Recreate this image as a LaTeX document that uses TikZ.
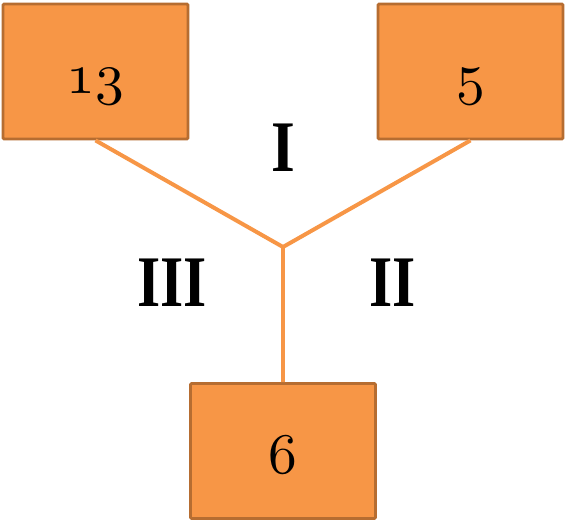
\documentclass[tikz,border=0pt]{standalone}
\usepackage{fontspec}
\newfontfamily\regionfont{Liberation Serif}
\newcommand\olddigits[1]{\scalebox{4.9}{\fontsize{10}{12}\usefont{OML}{cmm}{m}{it}#1}}
\usetikzlibrary{positioning}
\definecolor{boxfill}{HTML}{F79646}
\definecolor{boxline}{HTML}{B66D31}

\begin{document}
\begin{tikzpicture}[x=0.03cm,y=-0.03cm,
    numbox/.style={draw=boxline, fill=boxfill, line width=2.4pt, rounded corners=1pt,
      minimum width=5.55cm, minimum height=4.05cm, inner sep=0pt,
      text height=1.32cm, text depth=0pt},
    region/.style={font=\regionfont\fontsize{62}{66}\selectfont\bfseries},
    link/.style={draw=boxfill, line width=3.4pt}]
  \useasboundingbox (0,0) rectangle (566,523);
  % boxes
  \node[numbox] (left) at (95.5,71.5) {\olddigits{13}};
  \node[numbox] (right) at (470.5,71.5) {\olddigits{5}};
  \node[numbox] (bottom) at (283,451) {\olddigits{6}};
  \coordinate (meet) at (283,247);

  % connectors
  \draw[link] (left.south) -- (meet) -- (bottom.north);
  \draw[link] (right.south) -- (meet);

  % regions
  \node[region] (one) at (283,148) {\scalebox{0.84}[1]{I}};
  \node[region] (two) at (393,283) {\scalebox{0.82}[1]{II}};
  \node[region] (three) at (172,283) {\scalebox{0.82}[1]{III}};
\end{tikzpicture}
\end{document}
